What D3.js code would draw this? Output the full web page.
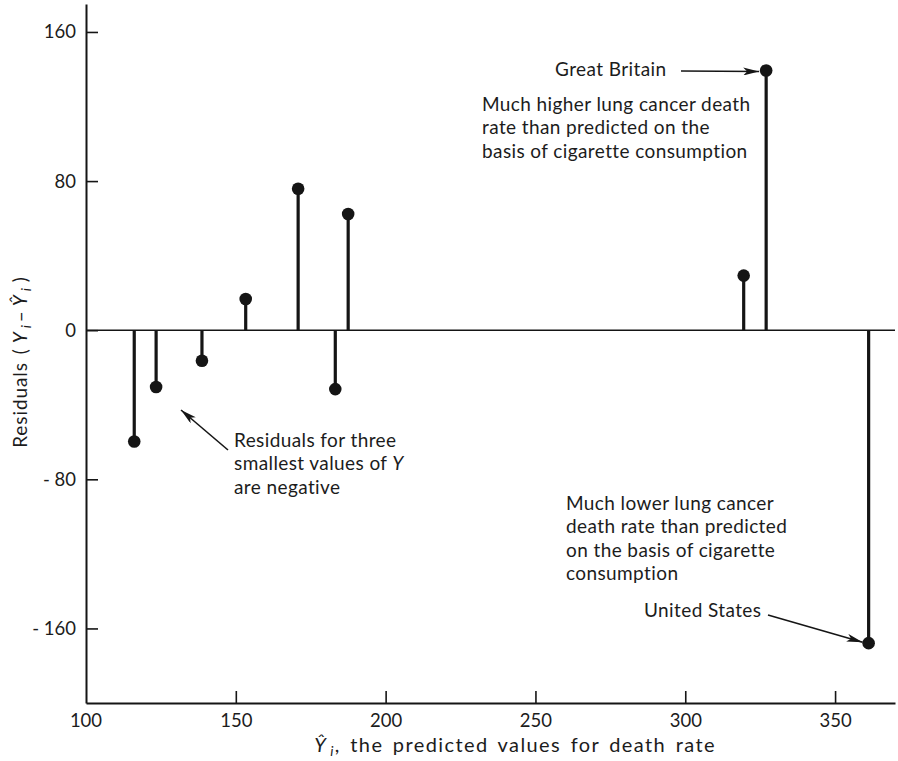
<!DOCTYPE html>
<html>
<head>
<meta charset="utf-8">
<script src="https://cdn.jsdelivr.net/npm/d3@7"></script>
<style>
  html, body { margin: 0; padding: 0; background: #fff; }
  svg { display: block; }
  text { font-family: Lato, "Open Sans", sans-serif; fill: #1c1c1c; }
</style>
</head>
<body>
<svg id="chart" width="898" height="761"></svg>
<script>
// Predicted death rate (Ŷ) and residual (Y − Ŷ) for each country
const predicted = [116.1, 123.4, 138.7, 153.3, 170.8, 183.2, 187.5, 319.5, 327.0, 361.2];
const residuals = [-59.7, -30.5, -16.4, 16.7, 75.9, -31.6, 62.3, 29.3, 139.3, -167.9];
const xTicks = [150, 200, 250, 300, 350];
const xTickLabels = ["150", "200", "250", "300", "350"];
const yTicks = [160, 80, 0, -80, -160];
const yTickLabels = ["160", "80", "0", "- 80", "- 160"];
const xExtra = [100];

const svg = d3.select("#chart");
const ink = "#151515";

const x = d3.scaleLinear().domain([100, 370]).range([86, 895]);
const y = d3.scaleLinear().domain([-200, 175]).range([703, 4]);

// Axes with inward ticks
const yAxis = d3.axisLeft(y)
  .tickValues(yTicks)
  .tickFormat((d, i) => yTickLabels[i])
  .tickSizeInner(-12).tickSizeOuter(0).tickPadding(10);
const xAxis = d3.axisBottom(x)
  .tickValues(xTicks)
  .tickFormat((d, i) => xTickLabels[i])
  .tickSizeInner(-12).tickSizeOuter(0).tickPadding(11);

const gx = svg.append("g").attr("transform", `translate(0,${y(-200)})`).call(xAxis);
const gy = svg.append("g").attr("transform", `translate(${x(100)},0)`).call(yAxis);
[gx, gy].forEach(g => {
  g.select(".domain").attr("stroke", ink).attr("stroke-width", 2);
  g.selectAll(".tick line").attr("stroke", ink).attr("stroke-width", 1.6);
  g.selectAll(".tick text").style("font-size", "18.5px").attr("fill", "#1c1c1c");
});
// "100" label at the corner of the axes
gx.selectAll(".corner").data(xExtra).enter().append("text")
  .attr("class", "corner")
  .attr("x", d => x(d)).attr("y", 11).attr("dy", "0.71em")
  .attr("text-anchor", "middle").style("font-size", "18.5px").attr("fill", "#1c1c1c")
  .text(d => d);

// Zero reference line
svg.append("line")
  .attr("x1", x(100)).attr("x2", x(370))
  .attr("y1", y(0)).attr("y2", y(0))
  .attr("stroke", ink).attr("stroke-width", 1.6);

// Residual stems and dots
const pts = predicted.map((p, i) => ({ p, r: residuals[i] }));
svg.append("g").selectAll("line").data(pts).enter().append("line")
  .attr("x1", d => x(d.p)).attr("x2", d => x(d.p))
  .attr("y1", y(0)).attr("y2", d => y(d.r))
  .attr("stroke", ink).attr("stroke-width", 3.2);
svg.append("g").selectAll("circle").data(pts).enter().append("circle")
  .attr("cx", d => x(d.p)).attr("cy", d => y(d.r)).attr("r", 6.3)
  .attr("fill", ink);

// Arrow marker
const defs = svg.append("defs");
defs.append("marker")
  .attr("id", "arrow").attr("viewBox", "0 0 16 8")
  .attr("refX", 16).attr("refY", 4)
  .attr("markerWidth", 16).attr("markerHeight", 8)
  .attr("markerUnits", "userSpaceOnUse")
  .attr("orient", "auto")
  .append("path").attr("d", "M0,0 L16,4 L0,8 L4,4 Z").attr("fill", ink);

function arrow(x1, y1, x2, y2) {
  svg.append("line")
    .attr("x1", x1).attr("y1", y1).attr("x2", x2).attr("y2", y2)
    .attr("stroke", ink).attr("stroke-width", 1.6)
    .attr("marker-end", "url(#arrow)");
}

function label(x0, y0, str) {
  return svg.append("text").attr("x", x0).attr("y", y0)
    .style("font-size", "19px").style("letter-spacing", "0.4px").text(str);
}

function block(x0, y0, lines) {
  const t = svg.append("text").style("font-size", "19px").style("letter-spacing", "0.4px");
  lines.forEach((ln, i) => {
    const row = t.append("tspan").attr("x", x0).attr("y", y0 + i * 23.3);
    ln.forEach(part => {
      const s = row.append("tspan").text(part.t);
      if (part.i) s.style("font-style", "italic");
    });
  });
}

// Great Britain
const gb = pts[8];
label(555, 76, "Great Britain");
arrow(681, 71, x(gb.p) - 7, y(gb.r) + 1);
block(482, 111, [
  [{ t: "Much higher lung cancer death" }],
  [{ t: "rate than predicted on the" }],
  [{ t: "basis of cigarette consumption" }]
]);

// Smallest values
arrow(228, 450, 181, 410);
block(234, 447, [
  [{ t: "Residuals for three" }],
  [{ t: "smallest values of " }, { t: "Y", i: true }],
  [{ t: "are negative" }]
]);

// United States
const us = pts[9];
block(566, 510, [
  [{ t: "Much lower lung cancer" }],
  [{ t: "death rate than predicted" }],
  [{ t: "on the basis of cigarette" }],
  [{ t: "consumption" }]
]);
label(644, 617, "United States");
arrow(768, 615, x(us.p) - 6, y(us.r) - 1);

// Axis titles
const xt = svg.append("text").attr("x", 515).attr("y", 752)
  .attr("text-anchor", "middle").style("font-size", "20px")
  .style("letter-spacing", "1.4px").style("word-spacing", "3px");
xt.append("tspan").style("font-style", "italic").text("Ŷ");
xt.append("tspan").style("font-style", "italic").style("font-size", "14px").attr("dx", 3).attr("dy", 4).text("i");
xt.append("tspan").attr("dy", -4).text(", the predicted values for death rate");

const yt = svg.append("text")
  .attr("transform", "translate(27,362) rotate(-90)")
  .attr("text-anchor", "middle").style("font-size", "19px")
  .style("letter-spacing", "0.9px").style("word-spacing", "3px");
yt.append("tspan").text("Residuals");
yt.append("tspan").attr("dx", 8).text("(");
yt.append("tspan").attr("dx", 5).style("font-style", "italic").text("Y");
yt.append("tspan").style("font-style", "italic").style("font-size", "14px").attr("dx", 3).attr("dy", 4).text("i");
yt.append("tspan").attr("dy", -4).attr("dx", 2).text("–");
yt.append("tspan").attr("dx", 4).style("font-style", "italic").text("Ŷ");
yt.append("tspan").style("font-style", "italic").style("font-size", "14px").attr("dx", 3).attr("dy", 4).text("i");
yt.append("tspan").attr("dy", -4).attr("dx", 5).text(")");
</script>
</body>
</html>
